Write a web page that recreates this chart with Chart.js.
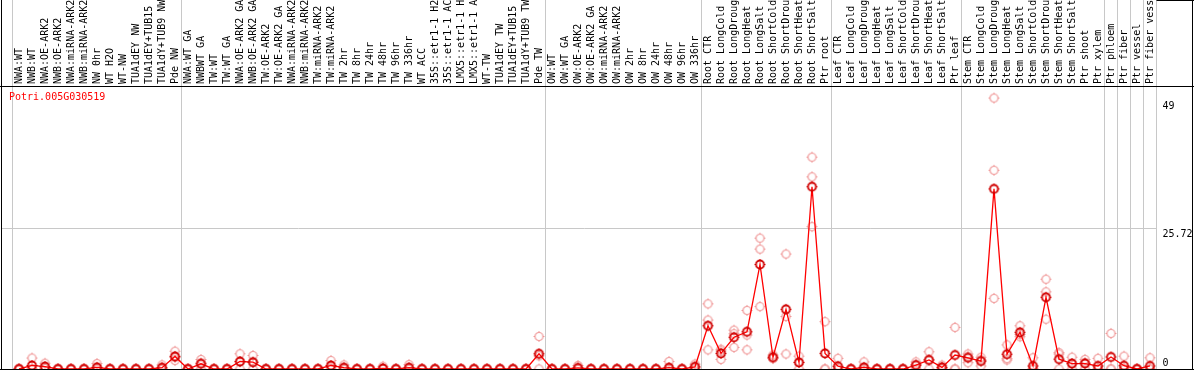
<!DOCTYPE html>
<html>
<head>
<meta charset="utf-8">
<script src="https://cdn.jsdelivr.net/npm/chart.js@4.4.1/dist/chart.umd.min.js"></script>
<style>
  html, body { margin: 0; padding: 0; background: #fff; }
  #wrap { width: 1194px; height: 370px; }
</style>
</head>
<body>
<div id="wrap"><canvas id="expr" width="1194" height="370"></canvas></div>
<script>
// nome do gene mostrado no canto
var geneName = 'Potri.005G030519';

// amostras (eixo x)
var sampleLabels = [
  'NWA:WT', 'NWB:WT', 'NWA:OE-ARK2', 'NWB:OE-ARK2', 'NWA:miRNA-ARK2', 'NWB:miRNA-ARK2', 'NW 0hr', 'WT H2O', 'WT-NW', 'TUA1dEY NW', 'TUA1dEY+TUB15', 'TUA1dY+TUB9 NW', 'Pde NW',
  'NWA:WT GA', 'NWBWT GA', 'TW:WT', 'TW:WT GA', 'NWA:OE-ARK2 GA', 'NWB:OE-ARK2 GA', 'TW:OE-ARK2', 'TW:OE-ARK2 GA', 'NWA:miRNA-ARK2', 'NWB:miRNA-ARK2', 'TW:miRNA-ARK2', 'TW:miRNA-ARK2',
  'TW 2hr', 'TW 8hr', 'TW 24hr', 'TW 48hr', 'TW 96hr', 'TW 336hr', 'WT ACC', '35S::etr1-1 H2O', '35S::etr1-1 ACC', 'LMX5::etr1-1 H2O', 'LMX5::etr1-1 ACC', 'WT-TW', 'TUA1dEY TW', 'TUA1dEY+TUB15', 'TUA1dY+TUB9 TW', 'Pde TW',
  'OW:WT', 'OW:WT GA', 'OW:OE-ARK2', 'OW:OE-ARK2 GA', 'OW:miRNA-ARK2', 'OW:miRNA-ARK2', 'OW 2hr', 'OW 8hr', 'OW 24hr', 'OW 48hr', 'OW 96hr', 'OW 336hr',
  'Root CTR', 'Root LongCold', 'Root LongDrought', 'Root LongHeat', 'Root LongSalt', 'Root ShortCold', 'Root ShortDrought', 'Root ShortHeat', 'Root ShortSalt', 'Ptr root',
  'Leaf CTR', 'Leaf LongCold', 'Leaf LongDrought', 'Leaf LongHeat', 'Leaf LongSalt', 'Leaf ShortCold', 'Leaf ShortDrought', 'Leaf ShortHeat', 'Leaf ShortSalt', 'Ptr leaf',
  'Stem CTR', 'Stem LongCold', 'Stem LongDrought', 'Stem LongHeat', 'Stem LongSalt', 'Stem ShortCold', 'Stem ShortDrought', 'Stem ShortHeat', 'Stem ShortSalt', 'Ptr shoot', 'Ptr xylem',
  'Ptr phloem', 'Ptr fiber', 'Ptr vessel', 'Ptr fiber vessel'
];

// tamanho de cada grupo de amostras (linhas cinzas entre grupos)
var groupSizes = [13, 28, 12, 10, 10, 11, 1, 1, 1, 1];

// media das replicas
var meanValues = [
  0, 0.65, 0.45, 0, 0, 0, 0.3, 0, 0, 0, 0, 0.25, 2.3,
  0, 0.95, 0, 0, 1.37, 1.24, 0, 0, 0, 0, 0, 0.64, 0.25, 0, 0, 0.1, 0, 0.25, 0, 0, 0, 0, 0, 0, 0, 0, 0, 2.78,
  0, 0, 0.2, 0, 0, 0, 0, 0, 0, 0.25, 0, 0.4,
  7.9, 2.85, 5.8, 6.8, 19.1, 2.15, 10.9, 1.2, 33.3, 2.85,
  0.5, 0, 0.3, 0, 0, 0, 0.7, 1.65, 0.3, 2.55,
  2.05, 1.45, 32.9, 2.7, 6.7, 0.55, 13.1, 1.8, 1.0, 1.0, 0.55,
  2.2, 0.6, 0, 0.55
];

// replicas
var rep1 = [
  0, 2.0, 1.06, 0, 0, 0, 1.0, 0, 0, 0, 0, 0.75, 3.25,
  0, 1.74, 0, 0, 2.78, 2.47, 0, 0, 0, 0, 0, 1.55, 0.75, 0, 0, 0.5, 0, 0.8, 0, 0, 0, 0, 0, 0, 0, 0, 0, 5.94,
  0, 0, 0.64, 0, 0, 0, 0, 0, 0, 1.37, 0, 0.9,
  11.9, 3.6, 7.1, 10.7, 23.9, 2.55, 21.0, 2.35, 38.7, 8.65,
  1.95, 0, 1.3, 0, 0, 0, 1.3, 3.15, 0.7, 7.6,
  2.75, 2.15, 49.5, 4.4, 7.9, 2.05, 16.4, 3.0, 2.15, 1.75, 1.95,
  6.5, 2.35, 0, 2.05
];
var rep2 = [
  0, 0, 0.2, 0, 0, 0, 0, 0, 0, 0, 0, 0, 2.1,
  0, 1.1, 0, 0, 1.33, 1.25, 0, 0, 0, 0, 0, 0.35, 0, 0, 0, 0, 0, 0, 0, 0, 0, 0, 0, 0, 0, 0, 0, 2.4,
  0, 0, 0, 0, 0, 0, 0, 0, 0, 0, 0, 0.3,
  8.95, 3.3, 6.45, 6.2, 21.9, 1.95, 9.6, 1.2, 35.1, 0,
  0, 0, 0, 0, 0, 0, 0.8, 1.7, 0.2, 0,
  2.3, 1.65, 36.3, 1.9, 6.3, 0, 14.1, 2.75, 0.9, 1.2, 0,
  0, 0, 0, 0
];
var rep3 = [
  0, 0, 0.1, 0, 0, 0, 0, 0, 0, 0, 0, 0, 1.55,
  0, 0, 0, 0, 0, 0, 0, 0, 0, 0, 0, 0, 0, 0, 0, 0, 0, 0, 0, 0, 0, 0, 0, 0, 0, 0, 0, 0,
  0, 0, 0, 0, 0, 0, 0, 0, 0, 0, 0, 0,
  3.5, 1.75, 3.95, 3.5, 11.4, 1.9, 2.75, 0, 26.0, 0,
  0, 0, 0, 0, 0, 0, 0, 0, 0, 0,
  1.15, 0.55, 12.9, 1.65, 5.9, 0, 9.1, 0, 0, 0, 0,
  0, 0, 0, 0
];

// marcas do eixo y
var yTicks = [0, 25.72, 49];

var FONT = 'DejaVu Sans Mono';
var GRID = '#c8c8c8';
var NONE = 'rgba(0,0,0,0)';

// indices onde comeca cada grupo (+ o fim)
var boundaries = [0];
groupSizes.forEach(function(n){ boundaries.push(boundaries[boundaries.length - 1] + n); });

// desenha o marcador circular com pequenos tracos
function makeMarker(color, lw){
  var c = document.createElement('canvas');
  c.width = 13; c.height = 13;
  var g = c.getContext('2d');
  g.strokeStyle = color;
  g.lineWidth = lw;
  g.beginPath();
  g.arc(6.5, 6.5, 4, 0, Math.PI * 2);
  g.stroke();
  g.lineWidth = 1;
  g.beginPath();
  g.moveTo(6.5, 1); g.lineTo(6.5, 3);
  g.moveTo(6.5, 10); g.lineTo(6.5, 12);
  g.moveTo(1, 6.5); g.lineTo(3, 6.5);
  g.moveTo(10, 6.5); g.lineTo(12, 6.5);
  g.stroke();
  return c;
}
var meanMarker = makeMarker('#d00000', 1.8);
var repMarker = makeMarker('#f09898', 1.2);

// moldura preta + nome do gene
var framePlugin = {
  id: 'frame',
  afterDraw: function(chart){
    var ctx = chart.ctx, a = chart.chartArea, W = chart.width, H = chart.height;
    var yg = Math.round(chart.scales.y.getPixelForValue(25.72)) + 0.5;
    ctx.save();
    ctx.lineWidth = 1;
    ctx.strokeStyle = GRID;
    ctx.beginPath(); ctx.moveTo(1, yg); ctx.lineTo(a.left, yg); ctx.stroke();
    ctx.strokeStyle = '#000';
    ctx.beginPath();
    ctx.moveTo(0, 86.5); ctx.lineTo(W, 86.5);
    ctx.moveTo(0, 369.5); ctx.lineTo(W, 369.5);
    ctx.moveTo(1.5, 0); ctx.lineTo(1.5, H);
    ctx.moveTo(1192.5, 0); ctx.lineTo(1192.5, H);
    ctx.moveTo(a.right, 0.5); ctx.lineTo(W, 0.5);
    ctx.stroke();
    ctx.fillStyle = '#ff0000';
    ctx.font = '10px "' + FONT + '"';
    ctx.textBaseline = 'alphabetic';
    ctx.fillText(geneName, 9, 100);
    ctx.restore();
  }
};

var repStyle = { showLine: false, pointStyle: repMarker, pointRadius: 4, clip: false };

new Chart(document.getElementById('expr'), {
  type: 'line',
  data: {
    labels: sampleLabels,
    datasets: [
      { label: 'media', data: meanValues, borderColor: '#ff0000', borderWidth: 1.3, tension: 0,
        pointStyle: meanMarker, pointRadius: 4, clip: false },
      Object.assign({ label: 'rep1', data: rep1 }, repStyle),
      Object.assign({ label: 'rep2', data: rep2 }, repStyle),
      Object.assign({ label: 'rep3', data: rep3 }, repStyle)
    ]
  },
  options: {
    responsive: false,
    devicePixelRatio: 1,
    animation: false,
    layout: { autoPadding: false, padding: { left: 12.5, right: 0, top: 0, bottom: 1 } },
    plugins: { legend: { display: false }, tooltip: { enabled: false } },
    scales: {
      x: {
        position: 'top',
        offset: true,
        grid: {
          offset: true,
          tickLength: 86,
          color: function(c){
            if (c.type !== 'tick') return GRID; // linha final
            return boundaries.indexOf(c.index) >= 0 ? GRID : NONE;
          }
        },
        border: { display: true, color: '#000' },
        ticks: { autoSkip: false, minRotation: 90, maxRotation: 90, padding: -84, labelOffset: 12,
          color: '#000', font: { family: FONT, size: 10 } },
        afterFit: function(s){ s.height = 86; s.paddingLeft = 0; s.paddingRight = 0; }
      },
      y: {
        position: 'right',
        min: 0,
        max: 51.7,
        afterBuildTicks: function(s){ s.ticks = yTicks.map(function(v){ return { value: v }; }); },
        grid: {
          drawTicks: false,
          color: function(c){ return c.tick && c.tick.value === 25.72 ? GRID : NONE; }
        },
        border: { display: false },
        ticks: {
          padding: 6, color: '#000', font: { family: FONT, size: 10 },
          callback: function(v){ return v === 0 ? [String(v), ''] : ['', String(v)]; }
        },
        afterFit: function(s){ s.width = 37.5; s.paddingTop = 0; s.paddingBottom = 0; }
      }
    }
  },
  plugins: [framePlugin]
});
</script>
</body>
</html>
